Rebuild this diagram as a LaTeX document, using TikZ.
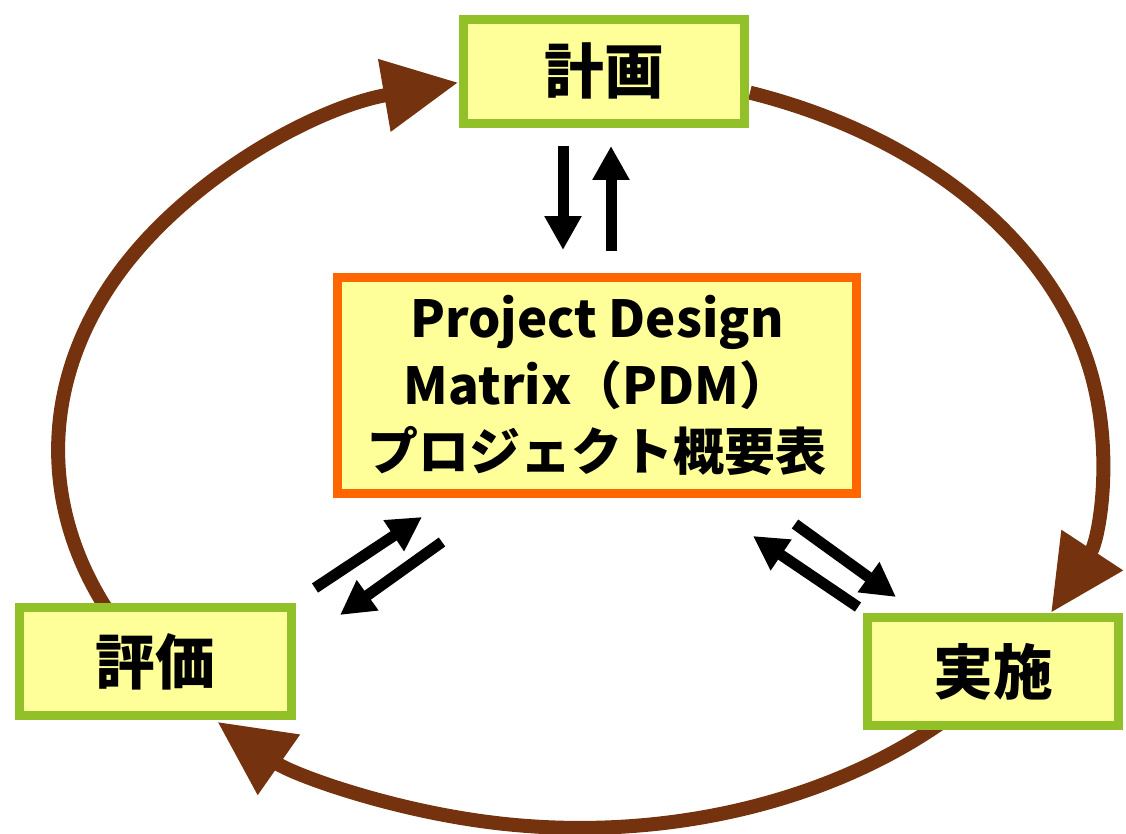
\documentclass[tikz,border=0pt]{standalone}
\usepackage{fontspec}
\newfontfamily\jpfont{Noto Sans CJK JP}
\usetikzlibrary{positioning,arrows.meta,calc}
\pgfdeclarelayer{bg}
\pgfsetlayers{bg,main}
\definecolor{cyclebrown}{RGB}{116,51,14}
\definecolor{boxgreen}{RGB}{146,192,40}
\definecolor{boxyellow}{RGB}{255,255,153}
\definecolor{pdmorange}{RGB}{255,102,0}
\tikzset{
	stagebox/.style={draw=boxgreen,fill=boxyellow,line width=0.18cm,inner sep=0pt,font=\jpfont\bfseries\fontsize{34}{40}\selectfont},
	pdmbox/.style={draw=pdmorange,fill=boxyellow,line width=0.18cm,inner sep=0pt,minimum width=10.4cm,minimum height=4.34cm,align=center,font=\jpfont\bfseries\fontsize{29}{38}\selectfont},
	cyclearrow/.style={cyclebrown,line width=0.28cm,-{Triangle[length=1.5cm,width=1.4cm]}},
	swaparrow/.style={black,line width=0.22cm,-{Triangle[length=0.68cm,width=0.7cm]}}
}
\begin{document}
\begin{tikzpicture}[x=0.02cm,y=-0.02cm]
			\useasboundingbox (0,0) rectangle (1126,834);
			\node[pdmbox] (pdm) at (597,385.5) {Project Design\\Matrix（PDM）\\プロジェクト概要表};
			\node[stagebox,minimum width=5.64cm,minimum height=2.08cm,above=2.9cm of pdm,xshift=0.14cm] (plan) {計画};
			\node[stagebox,minimum width=5.44cm,minimum height=2.16cm,below left=2.1cm and 0.74cm of pdm] (eval) {評価};
			\node[stagebox,minimum width=5.02cm,minimum height=2.16cm,below right=2.3cm and 0.04cm of pdm] (do) {実施};
			\coordinate (c) at (580,450);
			\coordinate (pd1) at (563,146);
			\coordinate (pd2) at (563,250);
			\coordinate (pu1) at (611,251);
			\coordinate (pu2) at (611,146);
			\coordinate (el1) at (315,588);
			\coordinate (el2) at (422,517);
			\coordinate (el3) at (442,542);
			\coordinate (el4) at (340,615);
			\coordinate (dr1) at (795,524);
			\coordinate (dr2) at (896,597);
			\coordinate (dr3) at (858,607);
			\coordinate (dr4) at (753,536);
			\draw[swaparrow] (pd1) -- (pd2);
			\draw[swaparrow] (pu1) -- (pu2);
			\draw[swaparrow] (el1) -- (el2);
			\draw[swaparrow] (el3) -- (el4);
			\draw[swaparrow] (dr1) -- (dr2);
			\draw[swaparrow] (dr3) -- (dr4);
			\begin{pgfonlayer}{bg}
				\draw[cyclearrow] ($(c)+(71:10.44cm and 7.56cm)$) arc[start angle=71,end angle=-25.5,x radius=10.44cm,y radius=7.56cm];
				\draw[cyclearrow] ($(c)+(-40:10.44cm and 7.56cm)$) arc[start angle=-40,end angle=-134,x radius=10.44cm,y radius=7.56cm];
				\draw[cyclearrow] ($(c)+(-150:10.44cm and 7.56cm)$) arc[start angle=-150,end angle=-256.5,x radius=10.44cm,y radius=7.56cm];
			\end{pgfonlayer}
\end{tikzpicture}
\end{document}
